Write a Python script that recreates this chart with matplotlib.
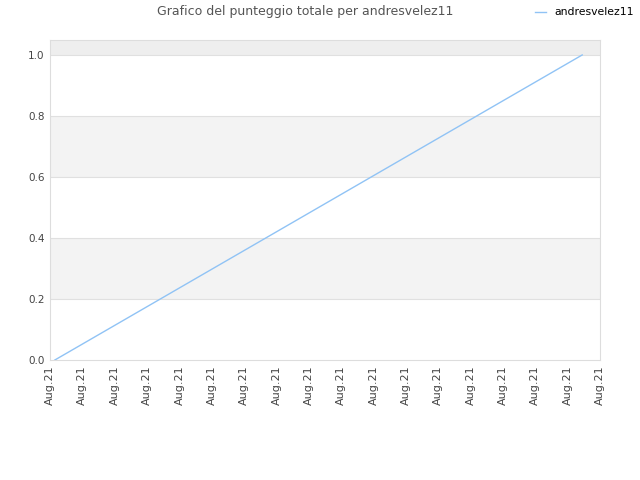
import matplotlib
matplotlib.use("Agg")
import matplotlib.pyplot as plt

title = "Grafico del punteggio totale per andresvelez11"
series_name = "andresvelez11"
tick_positions = list(range(18))
tick_labels = ["Aug.21"] * 18
x_values = [0.15, 16.45]
y_values = [0.0, 1.0]
y_ticks = [0.0, 0.2, 0.4, 0.6, 0.8, 1.0]

fig = plt.figure(figsize=(6.4, 4.8), dpi=100)
ax = fig.add_axes([50/640, 1 - 360/480, 550/640, 320/480])

ymax = 1.049
ax.axhspan(0.2, 0.4, color="#f3f3f3", zorder=0, lw=0)
ax.axhspan(0.6, 0.8, color="#f3f3f3", zorder=0, lw=0)
ax.axhspan(1.0, ymax, color="#eeeeee", zorder=0, lw=0)
for yt in y_ticks[1:]:
    ax.axhline(yt, color="#e0e0e0", lw=0.8, zorder=1)

ax.plot(x_values, y_values, color="#90c3f5", lw=1.0, label=series_name, zorder=3)

ax.set_xlim(tick_positions[0], tick_positions[-1])
ax.set_ylim(0, ymax)
ax.set_xticks(tick_positions)
ax.set_xticklabels(tick_labels, rotation=90, fontsize=8, color="#444444")
ax.set_yticks(y_ticks)
ax.set_yticklabels([f"{v:.1f}" for v in y_ticks], fontsize=7.5, color="#444444")
ax.tick_params(length=0, pad=4)
for s in ax.spines.values():
    s.set_color("#dddddd")
    s.set_linewidth(0.8)

fig.text(305/640, 1 - 12/480, title, ha="center", va="center",
         fontsize=9, color="#555555")
ax.legend(loc="upper right", bbox_to_anchor=(638/640, 1 - 3/480), bbox_transform=fig.transFigure,
          frameon=False, fontsize=7.8, handlelength=1.0, handletextpad=0.8, borderaxespad=0)

fig.savefig("out.png", dpi=100)
